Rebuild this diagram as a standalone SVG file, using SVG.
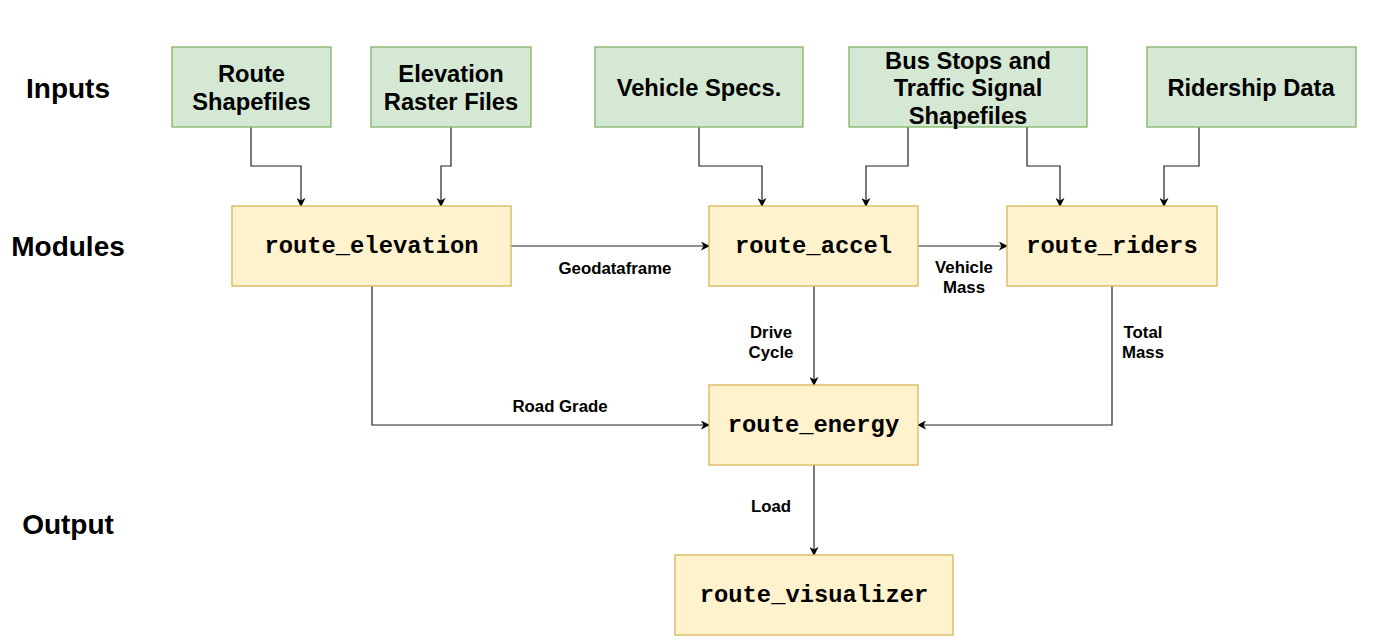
<svg xmlns="http://www.w3.org/2000/svg" width="1386" height="642" viewBox="0 0 1386 642">
<style>
.in{fill:#d5e8d4;stroke:#82b366;stroke-width:1.3}
.mod{fill:#fff2cc;stroke:#d6b656;stroke-width:1.3}
.t{font-family:"Liberation Sans",Arial,sans-serif;font-weight:bold;font-size:23.7px;fill:#000;text-anchor:middle;dominant-baseline:central}
.m{font-family:"Liberation Mono","Courier New",monospace;font-weight:bold;font-size:23.8px;fill:#000;text-anchor:middle;dominant-baseline:central}
.row{font-family:"Liberation Sans",Arial,sans-serif;font-weight:bold;font-size:28px;fill:#000;text-anchor:middle;dominant-baseline:central}
.lbl{font-family:"Liberation Sans",Arial,sans-serif;font-weight:bold;font-size:16.8px;fill:#000;text-anchor:middle;dominant-baseline:central}
.c{fill:none;stroke:#222;stroke-width:1.2;marker-end:url(#arr)}
</style>
<defs>
<marker id="arr" viewBox="0 0 10 10" refX="9" refY="5" markerWidth="9" markerHeight="9" markerUnits="userSpaceOnUse" orient="auto">
<path d="M0,0 L10,5 L0,10 L3,5 Z" fill="#000"/>
</marker>
</defs>
<rect width="1386" height="642" fill="#fff"/>
<g id="row-labels">
<text class="row" x="68" y="88">Inputs</text>
<text class="row" x="68" y="246">Modules</text>
<text class="row" x="68" y="524">Output</text>
</g>
<g id="connectors">
<path class="c" d="M251,127 V166 H301 V206"/>
<path class="c" d="M451,127 V166 H441 V206"/>
<path class="c" d="M699,127 V166 H762 V206"/>
<path class="c" d="M908,127 V166 H866 V206"/>
<path class="c" d="M1027,127 V166 H1060 V206"/>
<path class="c" d="M1199,127 V166 H1164 V206"/>
<path class="c" d="M511,246 H709"/>
<path class="c" d="M918,246 H1007"/>
<path class="c" d="M814,286 V385"/>
<path class="c" d="M372,286 V425 H709"/>
<path class="c" d="M1112,286 V425 H918"/>
<path class="c" d="M814,465 V555"/>
<text class="lbl" x="615" y="268">Geodataframe</text>
<text class="lbl" x="964" y="267">Vehicle</text>
<text class="lbl" x="964" y="287">Mass</text>
<text class="lbl" x="771" y="332">Drive</text>
<text class="lbl" x="771" y="352">Cycle</text>
<text class="lbl" x="1143" y="332">Total</text>
<text class="lbl" x="1143" y="352">Mass</text>
<text class="lbl" x="560" y="406">Road Grade</text>
<text class="lbl" x="771" y="506">Load</text>
</g>
<g id="route-shapefiles">
<rect class="in" x="172" y="47" width="159" height="80"/>
<text class="t" x="251.5" y="74">Route</text>
<text class="t" x="251.5" y="102">Shapefiles</text>
</g>
<g id="elevation-raster">
<rect class="in" x="371" y="47" width="160" height="80"/>
<text class="t" x="451" y="74">Elevation</text>
<text class="t" x="451" y="102">Raster Files</text>
</g>
<g id="vehicle-specs">
<rect class="in" x="595" y="47" width="208" height="80"/>
<text class="t" x="699" y="88">Vehicle Specs.</text>
</g>
<g id="bus-stops">
<rect class="in" x="849" y="47" width="238" height="80"/>
<text class="t" x="968" y="61">Bus Stops and</text>
<text class="t" x="968" y="88">Traffic Signal</text>
<text class="t" x="968" y="116">Shapefiles</text>
</g>
<g id="ridership">
<rect class="in" x="1147" y="47" width="209" height="80"/>
<text class="t" x="1251" y="88">Ridership Data</text>
</g>
<g id="route-elevation">
<rect class="mod" x="232" y="206" width="279" height="80"/>
<text class="m" x="371.5" y="246">route_elevation</text>
</g>
<g id="route-accel">
<rect class="mod" x="709" y="206" width="209" height="80"/>
<text class="m" x="813.5" y="246">route_accel</text>
</g>
<g id="route-riders">
<rect class="mod" x="1007" y="206" width="210" height="80"/>
<text class="m" x="1112" y="246">route_riders</text>
</g>
<g id="route-energy">
<rect class="mod" x="709" y="385" width="209" height="80"/>
<text class="m" x="813.5" y="425">route_energy</text>
</g>
<g id="route-visualizer">
<rect class="mod" x="675" y="555" width="278" height="80"/>
<text class="m" x="814" y="595">route_visualizer</text>
</g>
</svg>
